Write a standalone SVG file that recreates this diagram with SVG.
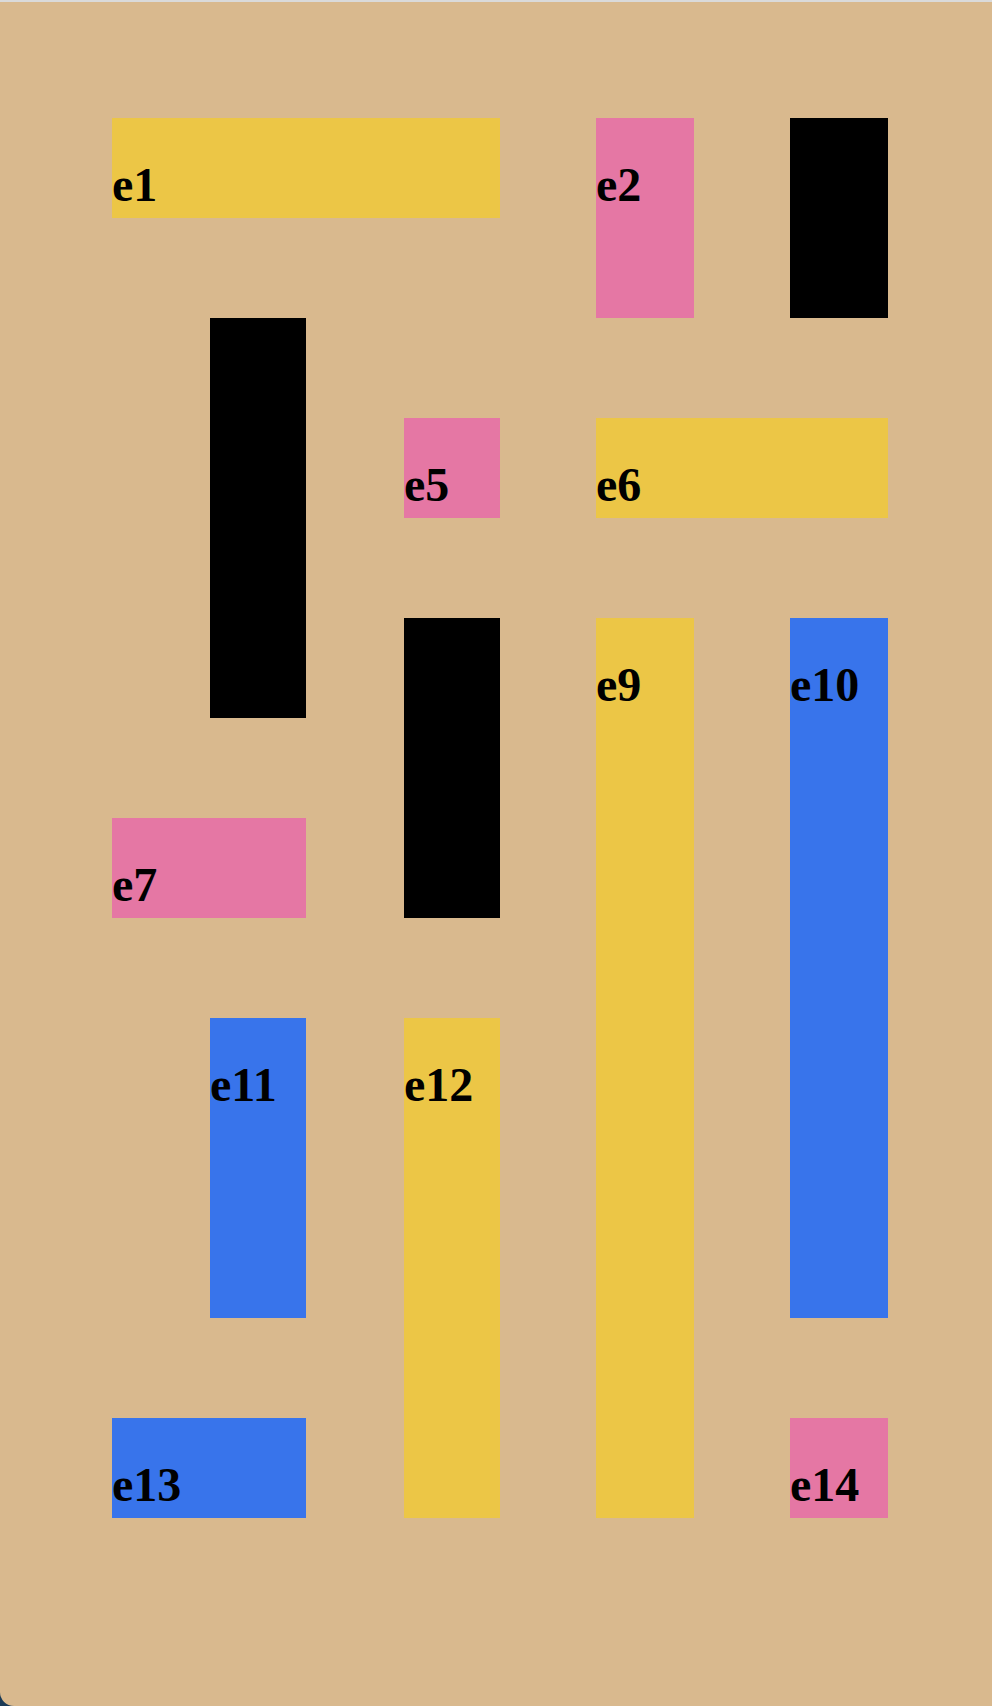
<svg xmlns="http://www.w3.org/2000/svg" width="992" height="1706" viewBox="0 0 992 1706">
  <style>
    .yellow { fill: #ECC646; }
    .pink { fill: #E577A4; }
    .blue { fill: #3874EB; }
    .black { fill: #000000; }
    .label { font-family: "Liberation Serif", "Times New Roman", serif; font-weight: bold; font-size: 48px; fill: #000000; }
  </style>
  <rect x="0" y="0" width="992" height="1706" fill="#1B3A55"/>
  <path d="M0 0 H992 V1706 H14 A14 14 0 0 1 0 1692 Z" fill="#D9B98E"/>
  <rect x="0" y="0" width="992" height="2" fill="#DADADA"/>
  <g id="e1"><rect class="yellow" x="112" y="118" width="388" height="100"/><text class="label" x="112" y="201">e1</text></g>
  <g id="e2"><rect class="pink" x="596" y="118" width="98" height="200"/><text class="label" x="596" y="201">e2</text></g>
  <g id="e3"><rect class="black" x="790" y="118" width="98" height="200"/></g>
  <g id="e4"><rect class="black" x="210" y="318" width="96" height="400"/></g>
  <g id="e5"><rect class="pink" x="404" y="418" width="96" height="100"/><text class="label" x="404" y="501">e5</text></g>
  <g id="e6"><rect class="yellow" x="596" y="418" width="292" height="100"/><text class="label" x="596" y="501">e6</text></g>
  <g id="e8"><rect class="black" x="404" y="618" width="96" height="300"/></g>
  <g id="e9"><rect class="yellow" x="596" y="618" width="98" height="900"/><text class="label" x="596" y="701">e9</text></g>
  <g id="e10"><rect class="blue" x="790" y="618" width="98" height="700"/><text class="label" x="790" y="701">e10</text></g>
  <g id="e7"><rect class="pink" x="112" y="818" width="194" height="100"/><text class="label" x="112" y="901">e7</text></g>
  <g id="e11"><rect class="blue" x="210" y="1018" width="96" height="300"/><text class="label" x="210" y="1101">e11</text></g>
  <g id="e12"><rect class="yellow" x="404" y="1018" width="96" height="500"/><text class="label" x="404" y="1101">e12</text></g>
  <g id="e13"><rect class="blue" x="112" y="1418" width="194" height="100"/><text class="label" x="112" y="1501">e13</text></g>
  <g id="e14"><rect class="pink" x="790" y="1418" width="98" height="100"/><text class="label" x="790" y="1501">e14</text></g>
  <g id="connectors"></g>
</svg>
